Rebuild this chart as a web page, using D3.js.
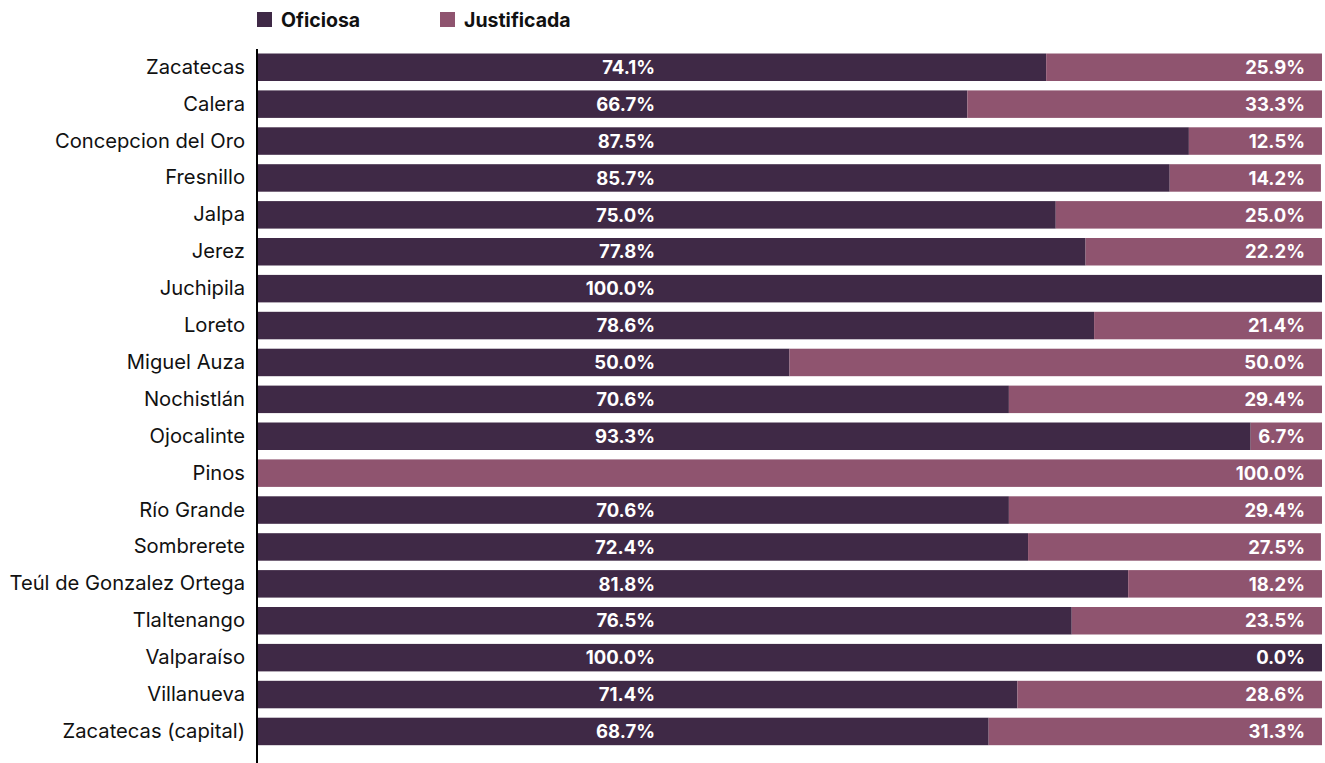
<!DOCTYPE html>
<html>
<head>
<meta charset="utf-8">
<script src="https://cdn.jsdelivr.net/npm/d3@7.9.0/dist/d3.min.js"></script>
<style>
  body { margin: 0; background: #fff; }
  svg text { font-family: Inter, "Noto Sans", sans-serif; }
</style>
</head>
<body>
<svg id="chart" width="1325" height="763"></svg>
<script>
// municipios
const categories = ['Zacatecas', 'Calera', 'Concepcion del Oro', 'Fresnillo', 'Jalpa', 'Jerez',
  'Juchipila', 'Loreto', 'Miguel Auza', 'Nochistlán', 'Ojocalinte', 'Pinos', 'Río Grande',
  'Sombrerete', 'Teúl de Gonzalez Ortega', 'Tlaltenango', 'Valparaíso', 'Villanueva',
  'Zacatecas (capital)'];

// porcentajes (null = sin etiqueta)
const oficiosa = [74.1, 66.7, 87.5, 85.7, 75.0, 77.8, 100.0, 78.6, 50.0, 70.6, 93.3, 0,
  70.6, 72.4, 81.8, 76.5, 100.0, 71.4, 68.7];
const justificada = [25.9, 33.3, 12.5, 14.2, 25.0, 22.2, null, 21.4, 50.0, 29.4, 6.7, 100.0,
  29.4, 27.5, 18.2, 23.5, 0.0, 28.6, 31.3];

const seriesNames = ['Oficiosa', 'Justificada'];
const colors = ['#3f2946', '#8f546f'];

const svg = d3.select('#chart');

const x = d3.scaleLinear().domain([0, 100]).range([257, 1322]);
const y = d3.scaleBand().domain(categories).range([48.8, 749.9]).paddingInner(0.255).paddingOuter(0.1275);

const data = categories.map((c, i) => ({ cat: c, of: oficiosa[i], ju: justificada[i] }));

// barras oficiosa
svg.append('g').selectAll('rect')
  .data(data.filter(d => d.of > 0))
  .join('rect')
  .attr('x', x(0))
  .attr('y', d => y(d.cat))
  .attr('width', d => x(d.of) - x(0))
  .attr('height', y.bandwidth())
  .attr('fill', colors[0]);

// barras justificada
svg.append('g').selectAll('rect')
  .data(data.filter(d => d.ju > 0))
  .join('rect')
  .attr('x', d => x(d.of))
  .attr('y', d => y(d.cat))
  .attr('width', d => x(d.of + d.ju) - x(d.of))
  .attr('height', y.bandwidth())
  .attr('fill', colors[1]);

// etiquetas
const fmt = v => v.toFixed(1) + '%';
svg.append('g').selectAll('text')
  .data(data.filter(d => d.of > 0))
  .join('text')
  .attr('x', 655)
  .attr('y', d => y(d.cat) + y.bandwidth() / 2)
  .attr('dy', '0.36em')
  .attr('text-anchor', 'end')
  .attr('fill', '#fff')
  .attr('font-weight', 700)
  .attr('font-size', 18.5)
  .text(d => fmt(d.of));

svg.append('g').selectAll('text')
  .data(data.filter(d => d.ju !== null))
  .join('text')
  .attr('x', 1305)
  .attr('y', d => y(d.cat) + y.bandwidth() / 2)
  .attr('dy', '0.36em')
  .attr('text-anchor', 'end')
  .attr('fill', '#fff')
  .attr('font-weight', 700)
  .attr('font-size', 18.5)
  .text(d => fmt(d.ju));

// eje y
const yAxis = svg.append('g')
  .attr('transform', `translate(${x(0)},0)`)
  .call(d3.axisLeft(y).tickSize(0).tickPadding(12));
yAxis.select('.domain').remove();
yAxis.selectAll('text')
  .attr('font-size', 20.2)
  .attr('fill', '#111')
  .style('font-family', 'Inter, "Noto Sans", sans-serif');

svg.append('line')
  .attr('x1', x(0)).attr('x2', x(0))
  .attr('y1', 49).attr('y2', 763)
  .attr('stroke', '#000')
  .attr('stroke-width', 2);

// leyenda
const legendX = [257, 440];
const legend = svg.append('g').selectAll('g')
  .data(seriesNames)
  .join('g')
  .attr('transform', (d, i) => `translate(${legendX[i]},12)`);
legend.append('rect')
  .attr('width', 15).attr('height', 15)
  .attr('fill', (d, i) => colors[i]);
legend.append('text')
  .attr('x', 24).attr('y', 7.5)
  .attr('dy', '0.36em')
  .attr('font-size', 19.5)
  .attr('font-weight', 700)
  .attr('fill', '#111')
  .text(d => d);
</script>
</body>
</html>
